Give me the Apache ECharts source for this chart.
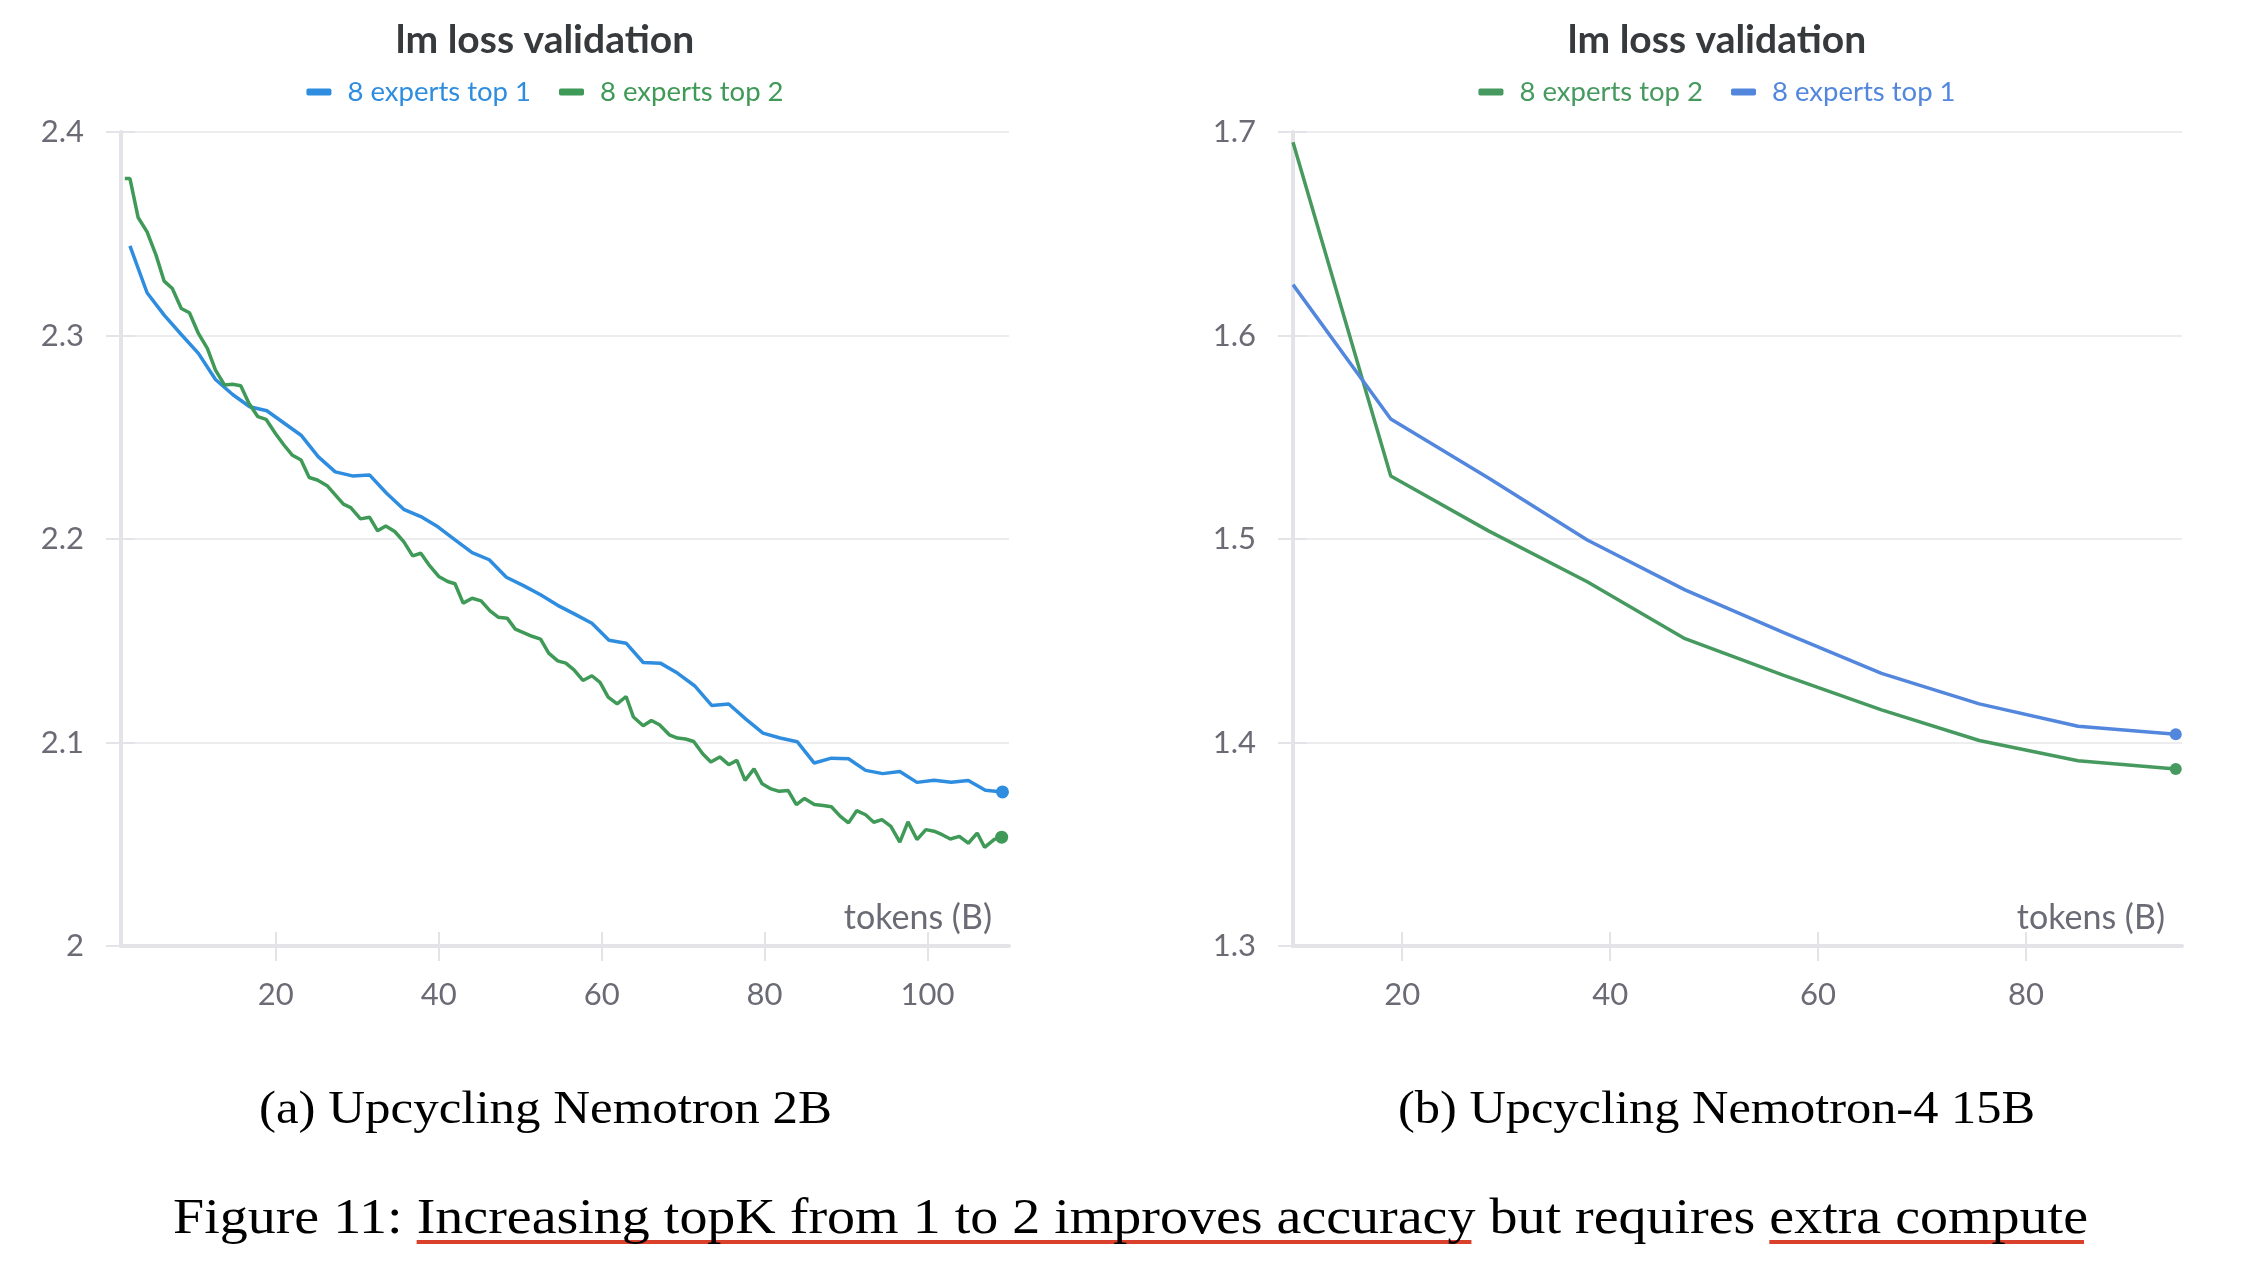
<!DOCTYPE html>
<html>
<head>
<meta charset="utf-8">
<script src="https://cdn.jsdelivr.net/npm/echarts@6/dist/echarts.min.js"></script>
<style>
html, body { margin: 0; padding: 0; background: #ffffff; width: 2258px; height: 1266px; overflow: hidden; }
#left { position: absolute; left: 0; top: 0; width: 1090px; height: 1040px; }
#right { position: absolute; left: 1176px; top: 0; width: 1082px; height: 1040px; }
#cap { position: absolute; left: 0; top: 1040px; width: 2258px; height: 226px; }
</style>
</head>
<body>
<div id="left"></div>
<div id="right"></div>
<div id="cap"></div>
<script>
// ---------- Data: (a) Upcycling Nemotron 2B ----------
const leftTop1X = [2.1, 4.2, 6.3, 8.4, 10.5, 12.6, 14.7, 16.8, 18.9, 21.0, 23.1, 25.2, 27.3, 29.4, 31.5, 33.6, 35.7, 37.8, 39.9, 42.0,
  44.1, 46.2, 48.3, 50.4, 52.5, 54.6, 56.7, 58.8, 60.9, 63.0, 65.1, 67.2, 69.3, 71.4, 73.5, 75.6, 77.7, 79.8, 81.9, 84.0,
  86.1, 88.2, 90.3, 92.4, 94.5, 96.6, 98.7, 100.8, 102.9, 105.0, 107.1, 109.2];
const leftTop1Y = [2.344, 2.321, 2.310, 2.3005, 2.2912, 2.2784, 2.271, 2.265, 2.263, 2.257, 2.251, 2.2405, 2.233, 2.231, 2.2315, 2.2225, 2.2146, 2.211, 2.206, 2.1996,
  2.1933, 2.1898, 2.1812, 2.1771, 2.1726, 2.1674, 2.1631, 2.1586, 2.1502, 2.1488, 2.1393, 2.1390, 2.1341, 2.1279, 2.1182, 2.1189, 2.1115, 2.1046, 2.1022, 2.1004,
  2.0899, 2.0923, 2.0920, 2.0863, 2.0847, 2.0857, 2.0804, 2.0815, 2.0805, 2.0813, 2.0765, 2.0757];

const leftTop2X = [1.47, 2.1, 3.1, 4.2, 5.3, 6.3, 7.3, 8.4, 9.4, 10.5, 11.6, 12.6, 13.7, 14.7, 15.7, 16.7, 17.8, 18.8, 20.0, 21.0,
  22.0, 23.1, 24.1, 25.1, 26.3, 27.3, 28.3, 29.2, 30.4, 31.5, 32.5, 33.5, 34.6, 35.7, 36.8, 37.8, 38.8, 40.0, 41.1, 42.0,
  43.0, 44.1, 45.2, 46.3, 47.3, 48.4, 49.4, 50.4, 51.45, 52.5, 53.5, 54.6, 55.6, 56.6, 57.7, 58.8, 59.8, 60.8, 61.9, 63.0,
  63.9, 65.1, 66.1, 67.1, 68.3, 69.3, 70.3, 71.3, 72.4, 73.4, 74.5, 75.6, 76.6, 77.6, 78.7, 79.7, 80.8, 81.8, 82.9, 83.9,
  84.9, 86.1, 87.2, 88.2, 89.3, 90.3, 91.3, 92.4, 93.4, 94.4, 95.5, 96.6, 97.6, 98.7, 99.8, 100.8, 101.8, 102.8, 103.9, 105.0,
  106.1, 107.0, 108.2, 109.1];
const leftTop2Y = [2.3771, 2.3771, 2.358, 2.3509, 2.3395, 2.3267, 2.3231, 2.3133, 2.3112, 2.301, 2.2937, 2.283, 2.2757, 2.276, 2.2753, 2.2667, 2.2601, 2.2588, 2.2516, 2.2462,
  2.2413, 2.2388, 2.2302, 2.229, 2.2262, 2.2217, 2.2171, 2.2154, 2.2099, 2.2107, 2.204, 2.2064, 2.2037, 2.1987, 2.1917, 2.193, 2.1873, 2.1816, 2.1791, 2.178,
  2.1685, 2.1709, 2.1696, 2.1647, 2.1616, 2.1611, 2.1557, 2.154, 2.1522, 2.1508, 2.1439, 2.1401, 2.139, 2.1357, 2.1305, 2.1328, 2.1295, 2.1223, 2.119, 2.1226,
  2.1125, 2.1082, 2.1108, 2.1087, 2.1038, 2.1022, 2.1017, 2.1005, 2.0945, 2.0904, 2.0929, 2.0891, 2.0912, 2.0814, 2.087, 2.0797, 2.0772, 2.076, 2.0764, 2.0695,
  2.0725, 2.0695, 2.069, 2.0684, 2.0637, 2.0605, 2.0665, 2.0645, 2.0608, 2.0621, 2.0588, 2.051, 2.061, 2.0523, 2.0572, 2.0564, 2.0547, 2.0526, 2.0539, 2.0505,
  2.0555, 2.0485, 2.0524, 2.0535];

// ---------- Data: (b) Upcycling Nemotron-4 15B ----------
const rightX = [9.5, 18.9, 28.3, 37.8, 47.2, 56.7, 66.1, 75.5, 85.0, 94.4];
const rightTop2Y = [1.695, 1.531, 1.504, 1.479, 1.451, 1.433, 1.416, 1.401, 1.391, 1.387];
const rightTop1Y = [1.625, 1.559, 1.530, 1.4995, 1.475, 1.454, 1.434, 1.419, 1.408, 1.404];

// ---------- Axis ticks ----------
const leftXTicks = [20, 40, 60, 80, 100];
const rightXTicks = [20, 40, 60, 80];
const leftYRange = [2.0, 2.4];
const rightYRange = [1.3, 1.7];
const leftXRange = [1, 110];
const rightXRange = [9.5, 95];

// ---------- Text ----------
const chartTitle = 'lm loss validation';
const nameTop1 = '8 experts top 1';
const nameTop2 = '8 experts top 2';
const xName = 'tokens (B)';
const subCapA = '(a) Upcycling Nemotron 2B';
const subCapB = '(b) Upcycling Nemotron-4 15B';
const mainCap = 'Figure 11: Increasing topK from 1 to 2 improves accuracy but requires extra compute';
const underlined = ['Increasing topK from 1 to 2 improves accuracy', 'extra compute'];

const FONT = 'Lato';
const AXIS_GRAY = '#e4e4e8';
const LABEL_GRAY = '#6b6b76';

function buildOption(o) {
  const tickStyle = { color: AXIS_GRAY, width: 2 };
  return {
    animation: false,
    backgroundColor: 'transparent',
    title: {
      text: chartTitle, left: 'center', top: 21, padding: 0,
      textStyle: { fontFamily: FONT, fontWeight: 'bold', fontSize: 39, color: '#363a3d' }
    },
    legend: {
      top: 78, left: 'center', padding: 0, icon: 'roundRect',
      itemWidth: 25, itemHeight: 7, itemGap: 28, selectedMode: false,
      textStyle: { fontFamily: FONT, fontSize: 27.5, padding: [0, 0, 0, 11] },
      data: o.legend.map(s => ({ name: s.name, textStyle: { color: s.color } }))
    },
    grid: { left: o.gridLeft, width: o.gridWidth, top: 132, height: 814, containLabel: false, outerBoundsMode: 'none' },
    xAxis: [
      {
        type: 'value', position: 'bottom', min: o.xRange[0], max: o.xRange[1],
        name: xName, nameLocation: 'end', nameGap: -17,
        nameTextStyle: { fontFamily: FONT, fontSize: 34, color: LABEL_GRAY, align: 'right', verticalAlign: 'bottom', padding: [0, 0, 11, 0] },
        axisLine: { show: true, onZero: false, lineStyle: { color: AXIS_GRAY, width: 4 } },
        axisTick: { show: true, length: 15, customValues: o.xTicks, lineStyle: tickStyle },
        axisLabel: { customValues: o.xTicks, margin: 33, fontFamily: FONT, fontSize: 31, color: LABEL_GRAY },
        splitLine: { show: false }
      },
      {
        type: 'value', position: 'bottom', min: o.xRange[0], max: o.xRange[1],
        axisLine: { show: false },
        axisTick: { show: true, inside: true, length: 14, customValues: o.xTicks, lineStyle: tickStyle },
        axisLabel: { show: false }, splitLine: { show: false }
      }
    ],
    yAxis: [
      {
        type: 'value', position: 'left', min: o.yRange[0], max: o.yRange[1], interval: 0.1,
        axisLine: { show: true, onZero: false, lineStyle: { color: AXIS_GRAY, width: 4 } },
        axisTick: { show: true, length: 15, lineStyle: tickStyle },
        axisLabel: { margin: 37, fontFamily: FONT, fontSize: 31, color: LABEL_GRAY },
        splitLine: { show: true, lineStyle: { color: '#ededf0', width: 2 } }
      },
      {
        type: 'value', position: 'left', min: o.yRange[0], max: o.yRange[1], interval: 0.1,
        axisLine: { show: false },
        axisTick: { show: true, inside: true, length: 14, lineStyle: tickStyle },
        axisLabel: { show: false }, splitLine: { show: false }
      }
    ],
    series: o.series.map(s => ({
      name: s.name, type: 'line', xAxisIndex: 0, yAxisIndex: 0,
      data: s.x.map((x, i) => [x, s.y[i]]),
      color: s.color,
      lineStyle: { width: 3.5, color: s.color },
      itemStyle: { color: s.color, borderWidth: 0 },
      symbol: 'circle', showSymbol: true,
      symbolSize: (v, p) => (p.dataIndex === s.x.length - 1 ? s.dot : 0),
      silent: true, emphasis: { disabled: true }
    }))
  };
}

const leftBlue = '#2f8de0', leftGreen = '#3f9a57';
const rightBlue = '#5387dd', rightGreen = '#479a5f';

const leftChart = echarts.init(document.getElementById('left'), null, { renderer: 'canvas' });
leftChart.setOption(buildOption({
  gridLeft: 121, gridWidth: 888,
  xRange: leftXRange, yRange: leftYRange, xTicks: leftXTicks,
  legend: [{ name: nameTop1, color: leftBlue }, { name: nameTop2, color: leftGreen }],
  series: [
    { name: nameTop1, x: leftTop1X, y: leftTop1Y, color: leftBlue, dot: 13 },
    { name: nameTop2, x: leftTop2X, y: leftTop2Y, color: leftGreen, dot: 13 }
  ]
}));

const rightChart = echarts.init(document.getElementById('right'), null, { renderer: 'canvas' });
rightChart.setOption(buildOption({
  gridLeft: 117, gridWidth: 889,
  xRange: rightXRange, yRange: rightYRange, xTicks: rightXTicks,
  legend: [{ name: nameTop2, color: rightGreen }, { name: nameTop1, color: rightBlue }],
  series: [
    { name: nameTop2, x: rightX, y: rightTop2Y, color: rightGreen, dot: 12 },
    { name: nameTop1, x: rightX, y: rightTop1Y, color: rightBlue, dot: 12 }
  ]
}));

// ---------- Captions ----------
const measureCtx = document.createElement('canvas').getContext('2d');
function textW(str, size) {
  measureCtx.font = size + 'px "Liberation Serif"';
  return measureCtx.measureText(str).width;
}
const SUB_SIZE = 46, MAIN_SIZE = 50;
const subAScale = 573 / textW(subCapA, SUB_SIZE);
const subBScale = 637 / textW(subCapB, SUB_SIZE);
const mainX = 173;
const mainScale = 1915 / textW(mainCap, MAIN_SIZE);

const capElements = [
  { type: 'text', x: 545.5, y: 71, scaleX: subAScale, z: 10,
    style: { text: subCapA, fontFamily: 'Liberation Serif', fontSize: SUB_SIZE, fill: '#000', align: 'center', verticalAlign: 'middle' } },
  { type: 'text', x: 1716.5, y: 71, scaleX: subBScale, z: 10,
    style: { text: subCapB, fontFamily: 'Liberation Serif', fontSize: SUB_SIZE, fill: '#000', align: 'center', verticalAlign: 'middle' } },
  { type: 'text', x: mainX, y: 180, scaleX: mainScale, z: 10,
    style: { text: mainCap, fontFamily: 'Liberation Serif', fontSize: MAIN_SIZE, fill: '#000', align: 'left', verticalAlign: 'middle' } }
];
underlined.forEach(seg => {
  const idx = mainCap.indexOf(seg);
  const x0 = mainX + mainScale * textW(mainCap.slice(0, idx), MAIN_SIZE);
  const w = mainScale * textW(seg, MAIN_SIZE) - 4;
  capElements.push({ type: 'rect', z: 5, shape: { x: x0, y: 200, width: w, height: 4 }, style: { fill: '#d9412c' } });
});

const capChart = echarts.init(document.getElementById('cap'), null, { renderer: 'canvas' });
capChart.setOption({ animation: false, backgroundColor: 'transparent', graphic: { elements: capElements } });
</script>
</body>
</html>
